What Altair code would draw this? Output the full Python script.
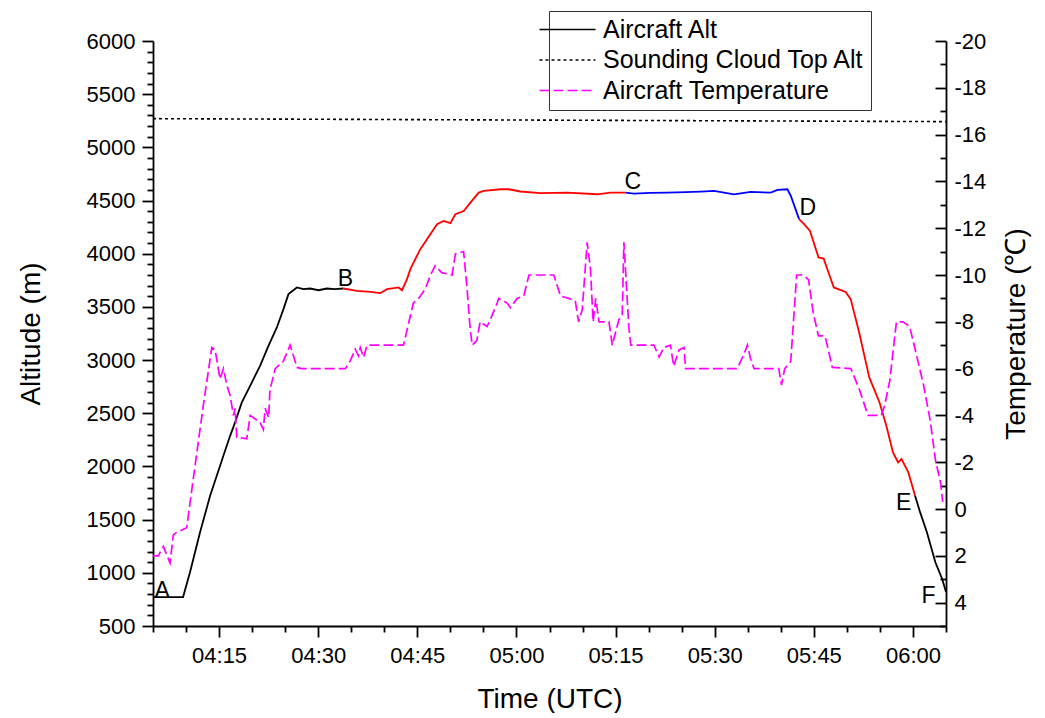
import altair as alt
import pandas as pd

FONT = "Liberation Sans"

# ---- Aircraft altitude (time = minutes after 04:00 UTC, altitude in m) ----
seg1_t = [5.0, 9.55, 10.6, 12.12, 13.64, 14.65, 15.65, 16.67, 17.42, 18.44, 19.7, 21.2,
          22.47, 23.74, 24.74, 25.5, 26.77, 27.77, 28.79, 30.05, 31.3, 32.5, 33.83]
seg1_a = [772, 772, 1005, 1381, 1724, 1912, 2100, 2288, 2414, 2602, 2758, 2946,
          3134, 3307, 3479, 3620, 3683, 3667, 3673, 3657, 3673, 3668, 3673]

seg2_t = [33.83, 35.86, 37.88, 39.39, 40.41, 42.17, 42.68, 43.44, 43.94, 45.45, 46.97, 47.98,
          48.98, 50.0, 50.76, 52.02, 53.03, 54.29, 55.05, 57.58, 58.83, 60.6, 63.64, 67.68,
          72.23, 74.24, 76.52]
seg2_a = [3673, 3651, 3641, 3629, 3667, 3683, 3657, 3761, 3855, 4043, 4183, 4277,
          4308, 4287, 4371, 4402, 4481, 4575, 4590, 4606, 4606, 4585, 4569, 4575,
          4559, 4575, 4575]

seg3_t = [76.52, 77.77, 80.3, 82.83, 85.6, 87.88, 89.9, 92.92, 95.45, 98.48, 99.5, 101.0,
          101.52, 102.77]
seg3_a = [4575, 4566, 4572, 4575, 4580, 4584, 4590, 4559, 4581, 4575, 4600, 4606,
          4543, 4325]

seg4_t = [102.77, 103.53, 104.42, 105.71, 106.48, 108.02, 109.82, 110.58, 111.86, 113.39,
          114.94, 115.97, 116.98, 117.76, 118.27, 119.3, 120.32]
seg4_a = [4325, 4278, 4215, 3965, 3955, 3683, 3641, 3573, 3260, 2837,
          2602, 2382, 2132, 2038, 2069, 1944, 1724]

seg5_t = [120.32, 121.09, 122.12, 123.39, 124.42, 125.0]
seg5_a = [1724, 1568, 1380, 1099, 942, 820]

seg_names = ["AB", "BC", "CD", "DE", "EF"]
seg_colors = ["black", "#FF0000", "#0000FF", "#FF0000", "black"]

# ---- Sounding cloud top altitude ----
cloud_t = [5.0, 125.0]
cloud_a = [5270, 5242]

# ---- Aircraft temperature (deg C) ----
temp_t = [5.0, 5.8, 6.56, 7.58, 8.08, 8.59, 10.1, 11.1, 12.6, 13.9, 14.4, 15.15, 15.65,
          16.17, 16.67, 17.17, 17.42, 17.68, 19.2, 19.7, 21.2, 21.7, 21.97, 22.5, 22.7,
          23.5, 24.7, 25.75, 26.8, 27.5, 34.1, 34.85, 35.6, 36.1, 36.36, 36.86, 37.4,
          42.9, 44.4, 45.2, 46.2, 47.0, 47.7, 48.7, 50.26, 50.76, 52.0, 52.5, 53.0, 53.3,
          54.0, 54.5, 55.56, 56.06, 57.08, 57.3, 58.6, 59.1, 60.1, 61.1, 61.9, 65.65,
          66.67, 67.9, 68.9, 69.4, 69.95, 70.7, 71.2, 71.6, 72.0, 72.5, 74.0, 74.5, 75.5,
          76.0, 76.26, 77.0, 77.3, 78.8, 80.8, 81.6, 82.3, 83.3, 83.8, 84.6, 85.35, 85.6,
          93.4, 94.4, 94.95, 95.45, 95.95, 99.7, 100.1, 100.6, 101.5, 102.4, 103.4, 104.2,
          104.9, 105.7, 106.7, 107.8, 110.6, 111.9, 113.2, 115.2, 115.7, 116.5, 117.5,
          118.5, 119.5, 120.6, 121.6, 122.6, 123.4, 124.2, 124.5]
temp_v = [2.0, 2.0, 1.6, 2.3, 1.1, 1.0, 0.8, -1.3, -4.4, -6.9, -6.8, -5.55, -6.0,
          -5.3, -4.85, -4.0, -4.3, -3.06, -3.0, -4.0, -3.7, -3.4, -4.3, -3.9, -5.1,
          -6.0, -6.3, -7.0, -6.05, -6.0, -6.0, -6.33, -6.83, -6.54, -6.9, -6.48, -7.0,
          -7.0, -8.8, -9.0, -9.4, -10.0, -10.4, -10.1, -10.0, -10.9, -11.0, -9.5, -7.7, -7.0,
          -7.2, -8.0, -7.8, -8.1, -8.8, -9.0, -8.8, -8.6, -9.0, -9.1, -10.0, -10.0,
          -9.1, -9.0, -8.9, -8.0, -8.5, -11.4, -10.25, -8.0, -9.0, -8.0, -8.0, -7.0, -8.1,
          -8.25, -11.4, -7.8, -7.0, -7.0, -7.0, -6.5, -6.9, -7.0, -6.1, -6.8, -6.9, -6.0,
          -6.0, -6.6, -7.0, -6.4, -6.0, -6.0, -5.3, -6.0, -6.3, -10.0, -10.0, -9.8,
          -8.4, -7.4, -7.4, -6.05, -6.0, -5.1, -4.0, -4.0, -4.4, -5.5, -8.0,
          -8.0, -7.8, -6.5, -5.3, -3.8, -2.1, -1.1, -0.3]

# ---- Point labels ----
lab_text = ["A", "B", "C", "D", "E", "F"]
lab_t = [6.4, 34.1, 77.6, 104.1, 118.6, 122.35]
lab_a = [825, 3765, 4678, 4432, 1660, 780]

series_names = ["Aircraft Alt", "Sounding Cloud Top Alt", "Aircraft Temperature"]

# ---- Build tables ----
segs = [(seg1_t, seg1_a), (seg2_t, seg2_a), (seg3_t, seg3_a), (seg4_t, seg4_a), (seg5_t, seg5_a)]
rows = []
for name, col, (ts, As) in zip(seg_names, seg_colors, segs):
    for t, a in zip(ts, As):
        rows.append({"t": t, "alt": a, "seg": name, "col": col})
df_alt = pd.DataFrame(rows)
df_cloud = pd.DataFrame({"t": cloud_t, "alt": cloud_a, "series": series_names[1]})
df_temp = pd.DataFrame({"t": temp_t, "temp": temp_v, "series": series_names[2]})
df_lab = pd.DataFrame({"t": lab_t, "alt": lab_a, "txt": lab_text})

x_enc = alt.X(
    "t:Q",
    scale=alt.Scale(domain=[5, 125], nice=False, zero=False),
    axis=alt.Axis(
        title="Time (UTC)",
        values=list(range(5, 126, 5)),
        labelExpr="datum.value % 15 === 0 ? '0' + floor(4 + datum.value / 60) + ':' + "
                  "(datum.value % 60 < 10 ? '0' : '') + (datum.value % 60) : ''",
        tickSize=alt.ExprRef("datum.value % 15 === 0 ? 11 : 6"),
        labelPadding=8,
        titlePadding=19,
        labelFlush=False,
    ),
)

y_axis_alt = alt.Axis(
    orient="left",
    title="Altitude (m)",
    values=list(range(500, 6001, 100)),
    labelExpr="datum.value % 500 === 0 ? '' + datum.value : ''",
    tickSize=alt.ExprRef("datum.value % 500 === 0 ? 11 : 6"),
    labelPadding=7,
    titlePadding=41,
    labelFlush=False,
)
y_scale_alt = alt.Scale(domain=[500, 6000], nice=False, zero=False)
y_alt = alt.Y("alt:Q", scale=y_scale_alt, axis=y_axis_alt)

legend = alt.Legend(
    title=None,
    orient="none",
    legendX=396,
    legendY=-30,
    symbolType="M-4,0L4,0",
    symbolSize=196,
    symbolStrokeWidth=1.5,
    labelFontSize=25,
    labelFont=FONT,
    labelColor="black",
    labelOffset=23,
    labelLimit=0,
    padding=6,
    rowPadding=4.5,
    strokeColor="#333333",
    fillColor="white",
)
color_enc = alt.Color(
    "series:N",
    scale=alt.Scale(domain=series_names, range=["black", "black", "#FF00FF"]),
    legend=legend,
)
dash_enc = alt.StrokeDash(
    "series:N",
    scale=alt.Scale(domain=series_names, range=[[1, 0], [3, 3], [10, 4]]),
    legend=legend,
)

alt_line = alt.Chart(df_alt).mark_line(strokeWidth=1.8).encode(
    x=x_enc,
    y=y_alt,
    detail="seg:N",
    stroke=alt.Stroke("col:N", scale=None),
)

cloud_line = alt.Chart(df_cloud).mark_line(strokeWidth=1.6).encode(
    x=x_enc,
    y=y_alt,
    color=color_enc,
    strokeDash=dash_enc,
)

letters = alt.Chart(df_lab).mark_text(
    font=FONT, fontSize=23, color="black", baseline="middle", align="center"
).encode(
    x=x_enc,
    y=y_alt,
    text="txt:N",
)

temp_line = alt.Chart(df_temp).mark_line(strokeWidth=1.7).encode(
    x=x_enc,
    y=alt.Y(
        "temp:Q",
        scale=alt.Scale(domain=[-20, 5], reverse=True, nice=False, zero=False),
        axis=alt.Axis(
            orient="right",
            title="Temperature (℃)",
            values=list(range(-20, 6)),
            labelExpr="datum.value % 2 === 0 ? '' + datum.value : ''",
            tickSize=alt.ExprRef("datum.value % 2 === 0 ? -11 : -6"),
            labelPadding=19,
            titlePadding=17,
            titleAngle=270,
            titleBaseline="top",
            labelFlush=False,
        ),
    ),
    color=color_enc,
    strokeDash=dash_enc,
)

left = alt.layer(alt_line, cloud_line, letters)
chart = (
    alt.layer(left, temp_line)
    .resolve_scale(y="independent")
    .properties(
        width=793,
        height=585,
        padding={"left": 9, "top": 2, "right": 5, "bottom": 0},
    )
    .configure_view(stroke=None)
    .configure_axis(
        labelFont=FONT,
        titleFont=FONT,
        labelFontSize=22,
        titleFontSize=28,
        titleFontWeight="normal",
        labelColor="black",
        titleColor="black",
        domainColor="black",
        tickColor="black",
        domainWidth=1.8,
        tickWidth=1.8,
        grid=False,
    )
)

chart.save("out.html", embed_options={"renderer": "svg", "actions": False})
